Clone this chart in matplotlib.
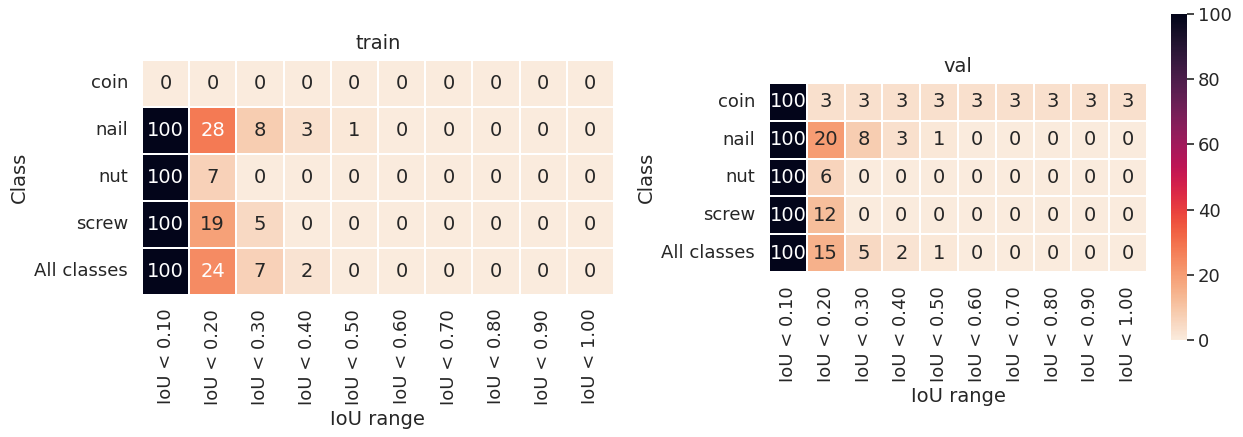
import matplotlib
matplotlib.use("Agg")
import matplotlib.pyplot as plt
import seaborn as sns
import numpy as np

# data (percent of boxes per IoU bin)
classes = ["coin", "nail", "nut", "screw", "All classes"]
iou_labels = ["IoU < 0.10", "IoU < 0.20", "IoU < 0.30", "IoU < 0.40", "IoU < 0.50",
              "IoU < 0.60", "IoU < 0.70", "IoU < 0.80", "IoU < 0.90", "IoU < 1.00"]

train_coin = [0, 0, 0, 0, 0, 0, 0, 0, 0, 0]
train_nail = [100, 28, 8, 3, 1, 0, 0, 0, 0, 0]
train_nut = [100, 7, 0, 0, 0, 0, 0, 0, 0, 0]
train_screw = [100, 19, 5, 0, 0, 0, 0, 0, 0, 0]
train_all = [100, 24, 7, 2, 0, 0, 0, 0, 0, 0]

val_coin = [100, 3, 3, 3, 3, 3, 3, 3, 3, 3]
val_nail = [100, 20, 8, 3, 1, 0, 0, 0, 0, 0]
val_nut = [100, 6, 0, 0, 0, 0, 0, 0, 0, 0]
val_screw = [100, 12, 0, 0, 0, 0, 0, 0, 0, 0]
val_all = [100, 15, 5, 2, 1, 0, 0, 0, 0, 0]

train = np.array([train_coin, train_nail, train_nut, train_screw, train_all])
val = np.array([val_coin, val_nail, val_nut, val_screw, val_all])

sns.set_theme(style="white")
plt.rcParams['font.family'] = ['DejaVu Sans']
plt.rcParams['text.color'] = '.15'
plt.rcParams['axes.labelcolor'] = '.15'
plt.rcParams['xtick.color'] = '.15'
plt.rcParams['ytick.color'] = '.15'

fig = plt.figure(figsize=(12.43, 4.37), dpi=100)
ax_train = fig.add_axes([0.1142, 0.325, 0.3797, 0.5378])
ax_val = fig.add_axes([0.6187, 0.3776, 0.3041, 0.4325])
ax_cbar = fig.add_axes([0.942, 0.222, 0.0129, 0.746])

for ax, data, title, cb in [(ax_train, train, "train", False), (ax_val, val, "val", True)]:
    sns.heatmap(data, ax=ax, cmap="rocket_r", vmin=0, vmax=100, annot=True, fmt="d",
                annot_kws={"fontsize": 14}, linewidths=1.1, linecolor="white",
                xticklabels=iou_labels, yticklabels=classes,
                cbar=cb, cbar_ax=ax_cbar if cb else None)
    ax.set_title(title, fontsize=14, pad=8)
    ax.set_xlabel("IoU range", fontsize=14)
    ax.set_ylabel("Class", fontsize=14)
    ax.tick_params(axis="both", length=0, labelsize=13, pad=10)
    ax.tick_params(axis="x", rotation=90)
    ax.tick_params(axis="y", rotation=0)

ax_cbar.tick_params(length=5, width=1.2, labelsize=13, pad=3, colors=".15")
ax_cbar.set_yticks([0, 20, 40, 60, 80, 100])

fig.savefig("out.png", dpi=100)
